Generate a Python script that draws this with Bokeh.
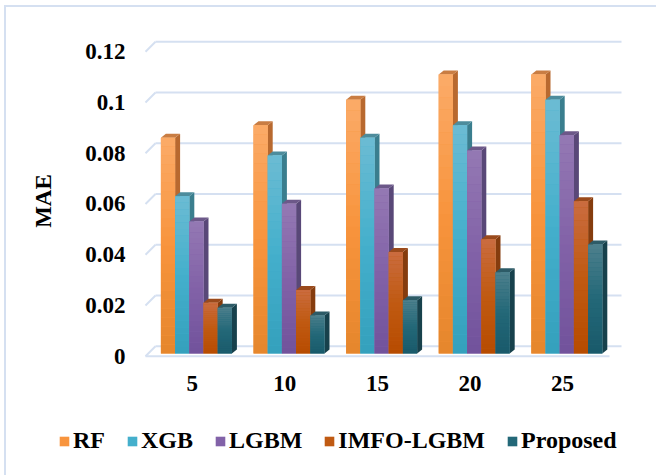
import numpy as np
from bokeh.plotting import figure
from bokeh.models import Range1d, LinearAxis, FixedTicker, Legend, LegendItem
from bokeh.embed import file_html
from bokeh.resources import INLINE

# ---- data -------------------------------------------------------------
CATEGORIES = ["5", "10", "15", "20", "25"]
SERIES = ["RF", "XGB", "LGBM", "IMFO-LGBM", "Proposed"]
RF = [0.085, 0.090, 0.100, 0.110, 0.110]
XGB = [0.062, 0.078, 0.085, 0.090, 0.100]
LGBM = [0.052, 0.059, 0.065, 0.080, 0.086]
IMFO_LGBM = [0.020, 0.025, 0.040, 0.045, 0.060]
PROPOSED = [0.018, 0.015, 0.021, 0.032, 0.043]
VALUES = [RF, XGB, LGBM, IMFO_LGBM, PROPOSED]
Y_TICKS = [0, 0.02, 0.04, 0.06, 0.08, 0.1, 0.12]
Y_TICK_LABELS = ["0", "0.02", "0.04", "0.06", "0.08", "0.1", "0.12"]
Y_LABEL = "MAE"

# ---- styling ----------------------------------------------------------
# front-face gradient stops (bottom, middle, top), side face, top face
FRONT = {
    "RF":        ("#e5862c", "#f8943d", "#fbab68"),
    "XGB":       ("#34a0bc", "#44afcc", "#6cbcd3"),
    "LGBM":      ("#71529b", "#8262a8", "#9479b3"),
    "IMFO-LGBM": ("#b74b00", "#c05a12", "#ca6c40"),
    "Proposed":  ("#19596a", "#236878", "#4e808d"),
}
SIDE = {"RF": "#b8692f", "XGB": "#3a7e8e", "LGBM": "#594878",
        "IMFO-LGBM": "#853c0e", "Proposed": "#17414c"}
TOPF = {"RF": "#c97d43", "XGB": "#4d8c9c", "LGBM": "#6c5889",
        "IMFO-LGBM": "#9a4a1c", "Proposed": "#2d5b67"}
GRID = "#d5e0f1"
FONT = "Liberation Serif"

# ---- geometry (pixels) ------------------------------------------------
W, H = 656, 475
WALL_L, WALL_R, FLOOR_Y = 145, 621, 363
PX_X = 92.6        # pixels per category
CAT0 = 191.7       # pixel column of the first category label
PX_Y = 2537.0      # pixels per MAE unit
ZERO_BAR = 353.0   # baseline of the bar fronts
ZERO_FRONT = 355.7 # front edge of floor / wall
ZERO_BACK = 345.7  # back wall baseline
BAR_W = 14.2 / PX_X
BAR_SHIFT = 4.2 / PX_X
DEPTH_X = 5.0 / PX_X
DEPTH_Y = 4.0 / PX_Y


def xd(px):
    return (px - CAT0) / PX_X


def yd(px):
    return (ZERO_BAR - px) / PX_Y


# the plotting frame covers the whole canvas; axes sit at fixed locations
p = figure(width=W, height=H,
           x_range=Range1d(xd(0), xd(W)),
           y_range=Range1d(yd(H), yd(0)),
           output_backend="svg", toolbar_location=None,
           y_axis_location=None,
           min_border=0)
p.outline_line_color = None
p.grid.visible = False
p.background_fill_alpha = 0
p.border_fill_alpha = 0
# thin light-blue chart-area border along the top and left edges
p.styles = {
    "background-color": "white",
    "background-image": "linear-gradient(%s,%s), linear-gradient(%s,%s)" % (GRID, GRID, GRID, GRID),
    "background-size": "2px %dpx, %dpx 2px" % (H, W),
    "background-position": "4px 5px, 4px 5px",
    "background-repeat": "no-repeat",
}

# ---- walls and gridlines ----------------------------------------------
back_off = (ZERO_BAR - ZERO_BACK) / PX_Y
front_off = (ZERO_BAR - ZERO_FRONT) / PX_Y
ticks = np.array(Y_TICKS, dtype=float)
p.segment(x0=[xd(155)] * len(ticks), x1=[xd(621)] * len(ticks),
          y0=ticks + back_off, y1=ticks + back_off,
          line_color=GRID, line_width=2)
p.segment(x0=[xd(145)] * len(ticks), x1=[xd(155)] * len(ticks),
          y0=ticks + front_off, y1=ticks + back_off,
          line_color=GRID, line_width=2)
p.segment(x0=[xd(145)], x1=[xd(609)], y0=[front_off], y1=[front_off],
          line_color=GRID, line_width=2)


def hex_rgb(h):
    return np.array([int(h[i:i + 2], 16) for i in (1, 3, 5)], dtype=float)


def ramp(stops, t):
    b, m, t_ = (hex_rgb(s) for s in stops)
    if t < 0.5:
        c = b + (m - b) * (t / 0.5)
    else:
        c = m + (t_ - m) * ((t - 0.5) / 0.5)
    return "#%02x%02x%02x" % tuple(int(round(v)) for v in c)


# ---- 3-D bars ---------------------------------------------------------
N_SLICES = 24
cat_idx = np.arange(len(CATEGORIES))
legend_items = []
for j, (name, vals) in enumerate(zip(SERIES, VALUES)):
    vals = np.array(vals, dtype=float)
    left = cat_idx + BAR_SHIFT + (j - 2.5) * BAR_W
    right = left + BAR_W

    side_xs = [[r, r, r + DEPTH_X, r + DEPTH_X] for r in right]
    side_ys = [[0, v, v + DEPTH_Y, DEPTH_Y] for v in vals]
    p.patches(side_xs, side_ys, fill_color=SIDE[name], line_color=None)
    top_xs = [[l, r, r + DEPTH_X, l + DEPTH_X] for l, r in zip(left, right)]
    top_ys = [[v, v, v + DEPTH_Y, v + DEPTH_Y] for v in vals]
    p.patches(top_xs, top_ys, fill_color=TOPF[name], line_color=None)

    base = p.quad(left=left, right=right, bottom=0, top=vals,
                  fill_color=FRONT[name][1], line_color=None)
    legend_items.append(LegendItem(label=name, renderers=[base]))

    ql, qr, qb, qt, qc = [], [], [], [], []
    for l, r, v in zip(left, right, vals):
        for k in range(N_SLICES):
            ql.append(l)
            qr.append(r)
            qb.append(v * k / N_SLICES)
            qt.append(v * (k + 1) / N_SLICES + (0 if k == N_SLICES - 1 else 1e-5))
            qc.append(ramp(FRONT[name], (k + 0.5) / N_SLICES))
    p.quad(left=ql, right=qr, bottom=qb, top=qt, fill_color=qc, line_color=None)

# ---- axes -------------------------------------------------------------
p.extra_y_ranges = {"front": Range1d((ZERO_FRONT - H) / PX_Y, ZERO_FRONT / PX_Y)}
yaxis = LinearAxis(y_range_name="front",
                   ticker=FixedTicker(ticks=Y_TICKS),
                   major_label_overrides=dict(zip(Y_TICKS, Y_TICK_LABELS)),
                   axis_label=Y_LABEL,
                   fixed_location=xd(WALL_L),
                   bounds=(-0.0005, 0.1228))
p.add_layout(yaxis, "left")

xaxis = p.xaxis[0]
xaxis.ticker = FixedTicker(ticks=list(cat_idx))
xaxis.major_label_overrides = {int(i): c for i, c in zip(cat_idx, CATEGORIES)}
xaxis.fixed_location = yd(FLOOR_Y)

for ax in (xaxis, yaxis):
    ax.axis_line_color = None
    ax.major_tick_line_color = None
    ax.minor_tick_line_color = None
    ax.major_tick_in = 0
    ax.major_tick_out = 0
    ax.major_label_text_font = FONT
    ax.major_label_text_font_style = "bold"
    ax.major_label_text_font_size = "23px"
    ax.major_label_text_color = "black"
xaxis.major_label_standoff = 12
yaxis.major_label_standoff = 20
yaxis.axis_label_text_font = FONT
yaxis.axis_label_text_font_style = "bold"
yaxis.axis_label_text_font_size = "23px"
yaxis.axis_label_text_color = "black"
yaxis.axis_label_standoff = 26

# ---- legend -----------------------------------------------------------
legend = Legend(items=legend_items, orientation="horizontal",
                location=(58, 21),
                glyph_width=12, glyph_height=12, label_standoff=3,
                spacing=21, padding=0, margin=0,
                label_text_font=FONT, label_text_font_style="bold",
                label_text_font_size="24px", label_text_color="black",
                background_fill_alpha=0, border_line_alpha=0)
p.add_layout(legend)

open("out.html", "w").write(file_html(p, INLINE))
